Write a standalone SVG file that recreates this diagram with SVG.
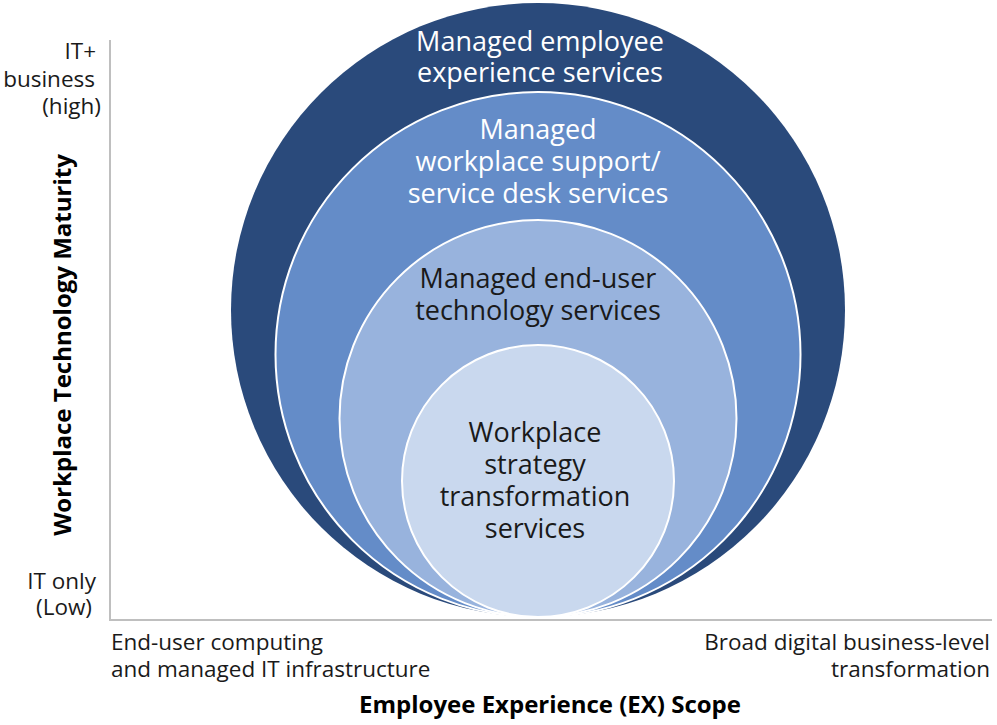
<svg xmlns="http://www.w3.org/2000/svg" width="997" height="725" viewBox="0 0 997 725">
<style>
.t{font-family:"Open Sans","Liberation Sans",sans-serif;}
.lbl{font-size:22.5px;fill:#1a1a1a;}
.ct{font-size:27px;text-anchor:middle;}
.w{fill:#ffffff;}
.k{fill:#1a1a1a;}
.ax{stroke:#bfbfbf;stroke-width:2;fill:none;}
.ring{stroke:#ffffff;stroke-width:2;}
.ttl{font-size:24px;font-weight:bold;fill:#000000;}
</style>
<rect width="997" height="725" fill="#ffffff"/>
<g id="axes">
<path class="ax" d="M110,40 V620 H992"/>
</g>
<g id="n1">
<circle cx="538" cy="310" r="307" fill="#2a4a7b"/>
<text class="t ct w" x="540" y="51">Managed employee</text>
<text class="t ct w" x="540" y="82">experience services</text>
</g>
<g id="n2">
<circle class="ring" cx="538" cy="354.5" r="262.5" fill="#648cc8"/>
<text class="t ct w" x="538" y="139">Managed</text>
<text class="t ct w" x="538" y="171">workplace support/</text>
<text class="t ct w" x="538" y="203">service desk services</text>
</g>
<g id="n3">
<circle class="ring" cx="538" cy="418.5" r="198.5" fill="#98b3dd"/>
<text class="t ct k" x="538" y="288">Managed end-user</text>
<text class="t ct k" x="538" y="320">technology services</text>
</g>
<g id="n4">
<circle class="ring" cx="538" cy="481" r="136" fill="#c9d8ee"/>
<text class="t ct k" x="535" y="442">Workplace</text>
<text class="t ct k" x="535" y="474">strategy</text>
<text class="t ct k" x="535" y="506">transformation</text>
<text class="t ct k" x="535" y="538">services</text>
</g>
<g id="labels">
<text class="t lbl" x="96" y="59" text-anchor="end">IT+</text>
<text class="t lbl" x="95" y="87" text-anchor="end">business</text>
<text class="t lbl" x="101" y="114" text-anchor="end">(high)</text>
<text class="t lbl" x="96" y="589" text-anchor="end">IT only</text>
<text class="t lbl" x="92" y="615" text-anchor="end">(Low)</text>
<text class="t lbl" x="111" y="650">End-user computing</text>
<text class="t lbl" x="111" y="677">and managed IT infrastructure</text>
<text class="t lbl" x="990" y="650" text-anchor="end">Broad digital business-level</text>
<text class="t lbl" x="990" y="677" text-anchor="end">transformation</text>
<text class="t ttl" x="550" y="713" text-anchor="middle">Employee Experience (EX) Scope</text>
<text class="t ttl" transform="translate(71,345) rotate(-90)" text-anchor="middle">Workplace Technology Maturity</text>
</g>
</svg>
